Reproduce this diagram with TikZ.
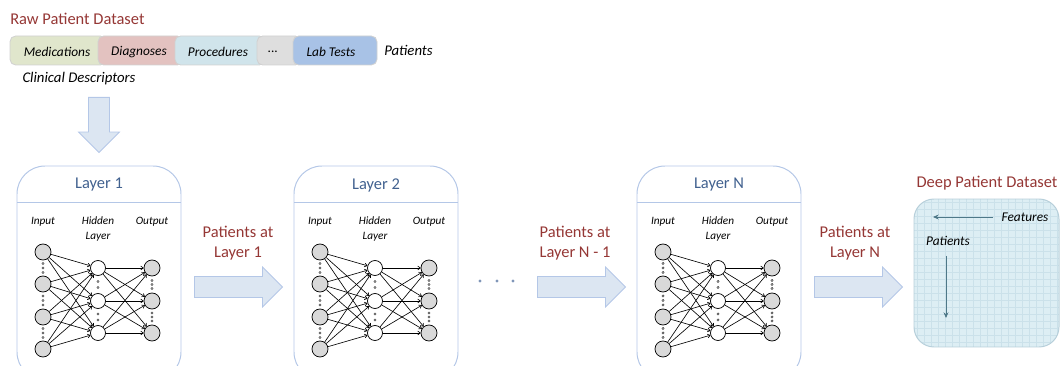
\documentclass[tikz,border=0pt]{standalone}
\usepackage{fontspec}
\setmainfont{Carlito}
\usepackage{xcolor}
\usepackage{tikz}
\usetikzlibrary{shapes.arrows, arrows.meta, positioning}

\definecolor{titlered}{HTML}{953735}
\definecolor{layerblue}{HTML}{41618F}
\definecolor{boxline}{HTML}{B4C7E7}
\definecolor{arrowfill}{HTML}{DCE6F2}
\definecolor{arrowline}{HTML}{B4C7E7}
\definecolor{medsgreen}{HTML}{E0E6CC}
\definecolor{diagred}{HTML}{E3C2C0}
\definecolor{procblue}{HTML}{D0E4EB}
\definecolor{moregray}{HTML}{DEDEDE}
\definecolor{labblue}{HTML}{A8C2E6}
\definecolor{deepfill}{HTML}{DDEEF4}
\definecolor{deepgrid}{HTML}{CBE1EA}
\definecolor{deepline}{HTML}{B7CFDA}
\definecolor{deeparrow}{HTML}{4E7888}
\definecolor{dotblue}{HTML}{8096B8}

\begin{document}
\begin{tikzpicture}[x=0.025cm, y=-0.025cm,
    % Styles
    title/.style={
        font=\fontsize{11.7}{14}\selectfont,
        text=titlered,
        inner sep=0pt
    },
    segment/.style={
        rounded corners=4pt,
        draw=black!18,
        line width=0.6pt
    },
    seglabel/.style={
        font=\fontsize{9.5}{11}\selectfont\itshape,
        inner sep=0pt
    },
    sidelabel/.style={
        font=\fontsize{10.5}{12}\selectfont\itshape,
        inner sep=0pt
    },
    layerbox/.style={
        draw=boxline,
        line width=0.7pt
    },
    layertitle/.style={
        font=\fontsize{11.7}{14}\selectfont,
        text=layerblue,
        inner sep=0pt
    },
    netlabel/.style={
        font=\fontsize{8}{10}\selectfont\itshape,
        align=center,
        inner sep=0pt
    },
    unit/.style={
        circle,
        draw=black,
        line width=0.5pt,
        inner sep=0pt
    },
    inunit/.style={unit, fill=black!15, minimum size=0.4cm},
    hidunit/.style={unit, fill=white, minimum size=0.375cm},
    outunit/.style={unit, fill=black!15, minimum size=0.4cm},
    link/.style={
        -{To[length=2.2pt, width=3pt]},
        line width=0.45pt
    },
    dotmark/.style={
        draw=black!80,
        fill=black!20,
        line width=0.3pt
    },
    flowarrow/.style={
        single arrow,
        draw=arrowline,
        fill=arrowfill,
        line width=0.6pt,
        minimum height=2.2cm,
        inner xsep=0pt,
        inner ysep=0.25cm,
        single arrow head extend=0.2375cm,
        anchor=tail
    },
    flowlabel/.style={
        font=\fontsize{11.7}{14.2}\selectfont,
        text=titlered,
        align=center,
        inner sep=0pt
    },
    deeplabel/.style={
        font=\fontsize{9.5}{11}\selectfont\itshape,
        inner sep=0pt
    },
    deeppointer/.style={
        -{Stealth[length=4pt, width=3.5pt]},
        draw=deeparrow,
        line width=0.7pt
    }
]

\clip (0,0) rectangle (1061,366);

% Raw patient dataset
\node[title, anchor=west] (raw) at (10,19) {Raw Patient Dataset};

\foreach \l/\r/\c in {10/106/medsgreen, 98/183/diagred, 175/265/procblue,
                       257/301/moregray, 293/377/labblue}
    \draw[segment, fill=\c] (\l,36) rectangle (\r,65);

\node[seglabel] (meds) at (57,52) {Medications};
\node[seglabel] (diag) at (139,52) {Diagnoses};
\node[seglabel] (proc) at (218,52) {Procedures};
\node[seglabel] (more) at (273,52) {...};
\node[seglabel] (lab) at (331,52) {Lab Tests};

\node[sidelabel, anchor=west] (patients) at (384,50) {Patients};
\node[sidelabel] (clin) at (79,79) {Clinical Descriptors};

\node[flowarrow, rotate=-90, minimum height=1.375cm,
      single arrow head extend=0.25cm] (down) at (99,97) {};

% Layers with their networks
\foreach \n/\x/\lab in {L1/17/Layer 1, L2/294/Layer 2, LN/637/Layer N} {
    \draw[layerbox, rounded corners=0.7cm] (\x,380) rectangle (\x+164,166);
    \draw[layerbox] (\x,202) -- (\x+164,202);
    \node[layertitle] (\n-title) at (\x+82,185) {\lab};

    \node[netlabel] (\n-in) at (\x+26,222) {Input};
    \node[netlabel] (\n-hid) at (\x+81,229) {Hidden\\Layer};
    \node[netlabel] (\n-out) at (\x+135,222) {Output};

    \foreach \i/\y in {1/252, 2/284, 3/317, 4/349}
        \node[inunit] (\n-i\i) at (\x+26,\y) {};
    \foreach \j/\y in {1/268, 2/301, 3/333} {
        \node[hidunit] (\n-h\j) at (\x+81,\y) {};
        \node[outunit] (\n-o\j) at (\x+135,\y) {};
    }

    \foreach \i in {1,...,4}
        \foreach \j in {1,2,3}
            \draw[link] (\n-i\i) -- (\n-h\j);
    \foreach \j in {1,2,3}
        \foreach \k in {1,2,3}
            \draw[link] (\n-h\j) -- (\n-o\k);

    % vertical dots
    \foreach \y in {268,300.5,333}
        \foreach \d in {-4.5,0,4.5}
            \draw[dotmark] (\x+26,\y+\d) circle (0.85pt);
    \foreach \y in {284.5,317}
        \foreach \d in {-3,3}
            \draw[dotmark] (\x+81,\y+\d) circle (0.85pt);
    \foreach \y in {284.5,317}
        \foreach \d in {-4,0,4}
            \draw[dotmark] (\x+135,\y+\d) circle (0.85pt);
}

% Arrows between layers
\node[flowarrow] (a1) at (194,287) {};
\node[flowlabel] (a1-text) at (238,243) {Patients at\\Layer 1};

\foreach \dx in {480,497,513}
    \fill[dotblue] (\dx,281) circle (1.1pt);

\node[flowarrow] (a2) at (537,287) {};
\node[flowlabel] (a2-text) at (575,243) {Patients at\\Layer N - 1};

\node[flowarrow] (a3) at (814,287) {};
\node[flowlabel] (a3-text) at (855,243) {Patients at\\Layer N};

% Deep patient dataset
\node[title] (deep) at (987,183) {Deep Patient Dataset};

\begin{scope}
    \clip[rounded corners=0.5cm] (914,199) rectangle (1059,347);
    \fill[deepfill] (914,199) rectangle (1059,347);
    \foreach \gx in {917,924,...,1059}
        \draw[deepgrid, line width=0.6pt] (\gx,199) -- (\gx,347);
    \foreach \gy in {202,209,...,347}
        \draw[deepgrid, line width=0.6pt] (914,\gy) -- (1059,\gy);
\end{scope}
\draw[draw=deepline, line width=0.7pt, rounded corners=0.5cm] (914,199) rectangle (1059,347);

\node[deeplabel] (feat) at (1025,217) {Features};
\coordinate (featend) at (933,217);
\draw[deeppointer] ([xshift=-0.2cm]feat.west) -- (featend);

\node[deeplabel] (pat) at (948,241) {Patients};
\coordinate (patend) at (946,318);
\draw[deeppointer] ([yshift=-0.25cm]patend |- pat.south) -- (patend);

\end{tikzpicture}
\end{document}
